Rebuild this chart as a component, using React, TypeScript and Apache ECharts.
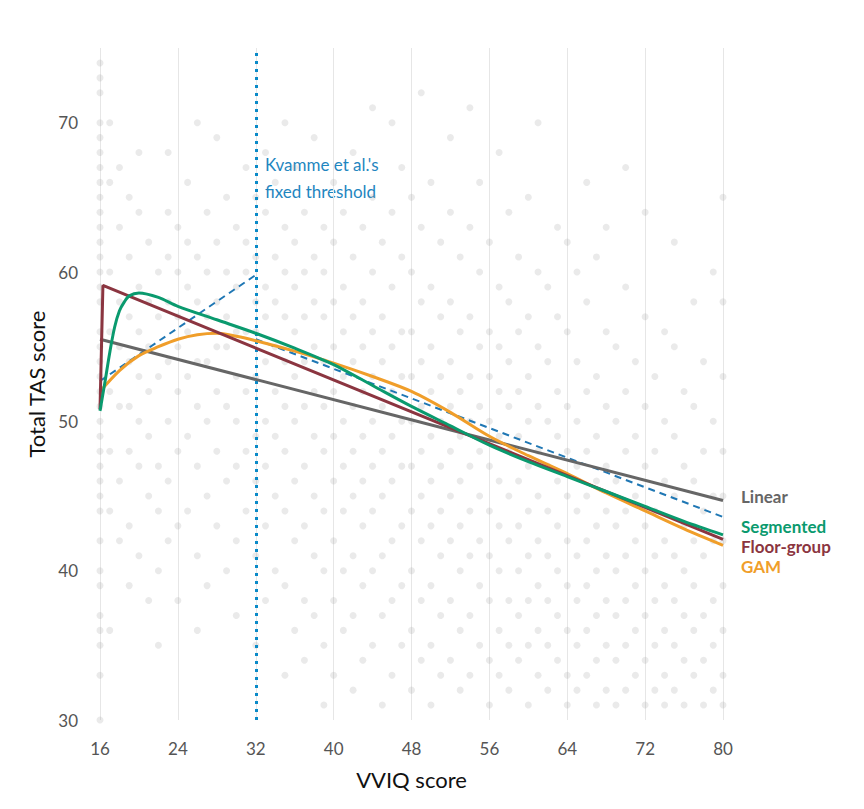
import React, { useEffect, useRef } from "react";
import * as echarts from "echarts";

// background participants: "vviq:tas,tas,..."
const scatterColumns = [
  "16:30,33,35,36,37,39,40,42,44,45,46,47,48,49,50,51,52,53,54,55,56,58,59,60,61,62,63,64,65,66,67,68,69,70,72,73,74",
  "17:36,44,48,52,56,60,66,70",
  "18:42,46,51,55,58,63,67",
  "19:39,43,48,51,54,57,61,65",
  "20:41,47,50,53,56,59,64,68",
  "21:38,45,49,52,55,58,62",
  "22:35,40,44,47,53,57,60",
  "23:42,46,50,54,58,61,64,68",
  "24:38,43,48,52,55,57,60,63",
  "25:44,49,53,56,59,62,66",
  "26:36,41,47,51,54,58,61,70",
  "27:39,45,50,54,57,60,64",
  "28:43,48,52,55,58,62,69",
  "29:40,46,51,55,57,60,65",
  "30:37,42,47,50,53,56,59,63",
  "31:44,48,52,56,60,62,67",
  "32:35,41,46,49,53,56,58,61,65",
  "33:38,43,47,50,54,57,59,64,68",
  "34:40,45,49,52,55,58,61,66",
  "35:33,39,44,48,51,54,57,60,63,70",
  "36:36,42,46,50,53,56,59,62,67",
  "37:34,38,43,47,51,54,57,60,64",
  "38:37,41,45,49,52,55,58,61,69",
  "39:31,35,40,44,48,51,54,57,60,63",
  "40:33,38,42,46,49,52,55,58,62,66",
  "41:36,40,44,47,50,53,56,59,64",
  "42:32,37,41,45,48,51,54,57,61,68",
  "43:34,39,43,46,49,52,55,58,63",
  "44:35,40,44,47,50,53,56,60,65,71",
  "45:31,37,41,45,48,51,54,57,62",
  "46:33,38,42,46,49,52,55,59,64,70",
  "47:35,39,43,47,50,53,56,61,67",
  "48:32,36,40,44,47,50,53,56,60,65",
  "49:34,38,42,45,48,51,54,58,63,72",
  "50:31,35,39,43,46,49,52,55,59,66",
  "51:33,37,41,44,47,50,53,57,62",
  "52:34,38,42,45,48,51,54,58,64,69",
  "53:32,36,40,43,46,49,52,56,61",
  "54:33,37,41,44,47,50,53,57,63,71",
  "55:35,39,42,45,48,51,55,60,66",
  "56:31,34,38,41,44,47,50,53,56,62",
  "57:33,36,40,43,46,49,52,55,59,68",
  "58:32,35,38,42,45,48,51,54,58,64",
  "59:34,37,40,43,46,49,52,56,61",
  "60:31,35,38,41,44,47,50,53,57,65",
  "61:33,36,39,42,45,48,51,55,60,70",
  "62:32,35,38,41,44,47,50,54,59",
  "63:34,37,40,43,46,49,52,57,63",
  "64:31,33,36,39,42,45,48,51,56,62",
  "65:32,35,38,41,44,47,50,54,60",
  "66:33,36,39,42,45,48,52,58,66",
  "67:31,34,37,40,43,46,49,53,61",
  "68:32,35,38,41,44,47,51,56,63",
  "69:31,34,37,40,43,46,50,55",
  "70:32,35,38,41,44,48,52,59,67",
  "71:33,36,39,42,45,49,54",
  "72:31,34,37,40,43,47,51,57,64",
  "73:32,35,38,41,44,48,53",
  "74:31,33,36,39,42,46,50,56",
  "75:32,35,38,41,45,49,55,62",
  "76:31,34,37,40,43,47,52",
  "77:33,36,39,42,46,51,58",
  "78:31,34,37,41,44,48,54",
  "79:32,35,38,42,45,50,60",
  "80:31,33,36,39,42,45,48,53,58,65",
];

const linearFit = [[16, 55.5], [80, 44.7]];
const segmentedFit = [
  [16, 50.7], [16.5, 52.6], [17, 54.6], [17.5, 56.3], [18, 57.4], [18.5, 58.0], [19, 58.4],
  [20, 58.6], [22, 58.3], [24, 57.7], [28, 56.8], [32, 55.9], [36, 54.9], [40, 53.8],
  [44, 52.4], [48, 51.0], [52, 49.7], [56, 48.4], [60, 47.3], [64, 46.3], [68, 45.3],
  [72, 44.3], [76, 43.3], [80, 42.4],
];
const floorGroupFit = [[16, 50.8], [16.3, 59.1], [80, 42.1]];
const gamFit = [
  [16, 52.0], [18, 53.4], [20, 54.4], [22, 55.0], [24, 55.5], [26, 55.8], [28, 55.9],
  [30, 55.7], [32, 55.4], [36, 54.7], [40, 53.9], [44, 53.0], [48, 52.0], [52, 50.6],
  [56, 49.0], [60, 47.7], [64, 46.5], [68, 45.2], [72, 44.0], [76, 42.8], [80, 41.7],
];
const thresholdLeft = [[16, 52.7], [32, 59.8]];
const thresholdRight = [[32, 55.5], [80, 43.6]];
const thresholdX = 32;

const FONT = "Lato, 'Open Sans', sans-serif";

export default function App() {
  const ref = useRef<HTMLDivElement>(null);

  useEffect(() => {
    if (!ref.current) return;
    const chart = echarts.init(ref.current, null, { renderer: "svg" });

    const points: number[][] = [];
    scatterColumns.forEach((col) => {
      const [x, ys] = col.split(":");
      ys.split(",").forEach((y) => points.push([Number(x), Number(y)]));
    });

    const fitLine = (name: string, data: number[][], color: string, offset: number[], smooth = false) => ({
      name,
      type: "line",
      data,
      smooth: smooth ? 0.3 : false,
      symbol: "none",
      lineStyle: { color, width: 3 },
      z: 5,
      endLabel: {
        show: true,
        formatter: name,
        color,
        fontFamily: FONT,
        fontWeight: "bold",
        fontSize: 17,
        offset,
      },
    });

    chart.setOption({
      animation: false,
      grid: { left: 92, right: 133, top: 40, bottom: 81 },
      xAxis: {
        type: "value",
        min: 16,
        max: 80,
        interval: 8,
        name: "VVIQ score",
        nameLocation: "middle",
        nameGap: 48,
        nameTextStyle: { fontFamily: FONT, fontSize: 22, color: "#111" },
        axisLine: { show: false },
        axisTick: { show: false },
        axisLabel: { fontFamily: FONT, fontSize: 17, color: "#555", margin: 20 },
        splitLine: { show: true, lineStyle: { color: "#e6e6e6", width: 1 } },
      },
      yAxis: {
        type: "value",
        min: 30,
        max: 75,
        interval: 10,
        name: "Total TAS score",
        nameLocation: "middle",
        nameGap: 52,
        nameTextStyle: { fontFamily: FONT, fontSize: 22, color: "#111" },
        axisLine: { show: false },
        axisTick: { show: false },
        axisLabel: {
          fontFamily: FONT,
          fontSize: 17,
          color: "#555",
          margin: 22,
          formatter: (v: number) => (v === 75 ? "" : String(v)),
        },
        splitLine: { show: false },
      },
      series: [
        {
          type: "scatter",
          data: points,
          symbolSize: 7,
          itemStyle: { color: "rgba(150,150,150,0.25)" },
          z: 1,
          silent: true,
        },
        {
          type: "line",
          data: thresholdLeft,
          symbol: "none",
          lineStyle: { color: "#1f77b4", width: 2, type: [7, 5] },
          z: 4,
        },
        {
          type: "line",
          data: thresholdRight,
          symbol: "none",
          lineStyle: { color: "#1f77b4", width: 2, type: [7, 5] },
          z: 4,
          markLine: {
            silent: true,
            symbol: "none",
            label: { show: false },
            lineStyle: { color: "#0a8ac8", width: 3, type: [3, 5] },
            data: [{ xAxis: thresholdX }],
          },
        },
        fitLine("Linear", linearFit, "#666666", [10, -4]),
        fitLine("GAM", gamFit, "#f09e2a", [10, 21], true),
        fitLine("Floor-group", floorGroupFit, "#8b3540", [10, 7]),
        fitLine("Segmented", segmentedFit, "#0a9a6e", [10, -8], true),
      ],
      graphic: [
        {
          type: "text",
          left: 257,
          top: 143,
          style: {
            text: "Kvamme et al.'s\nfixed threshold",
            fill: "#1f86bf",
            fontFamily: FONT,
            fontSize: 17,
            lineHeight: 27,
          },
        },
      ],
    });

    return () => chart.dispose();
  }, []);

  return <div ref={ref} style={{ width: 848, height: 793 }} />;
}
